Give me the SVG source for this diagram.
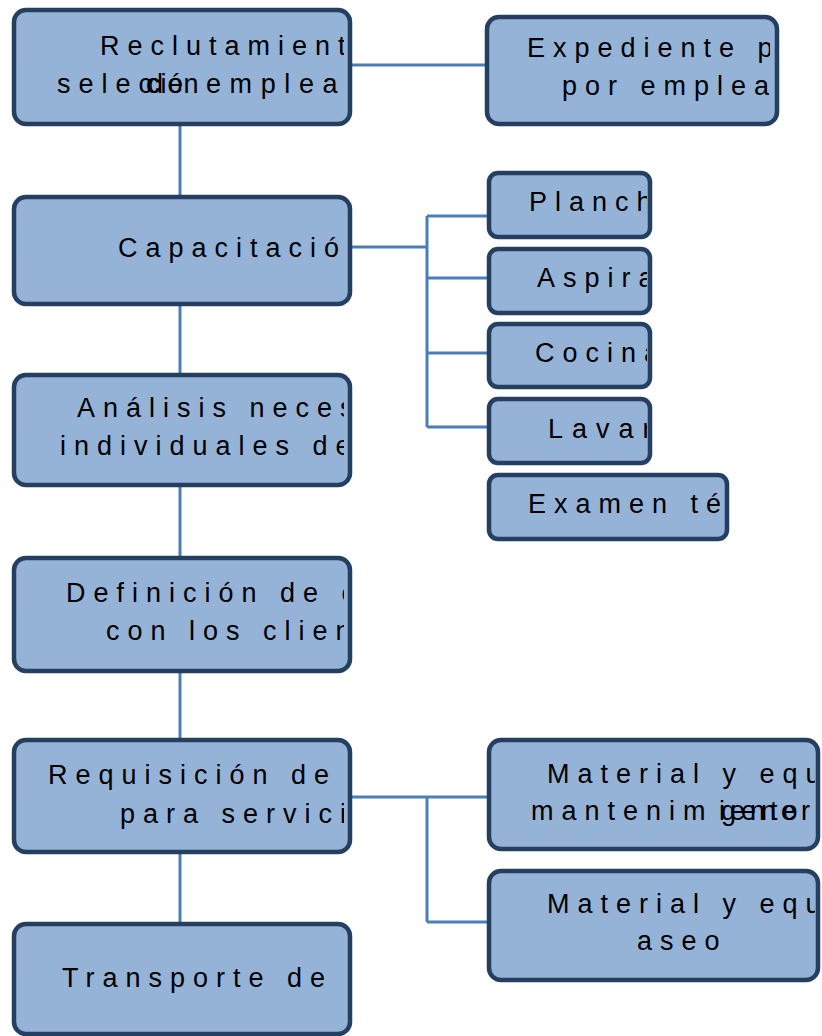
<svg xmlns="http://www.w3.org/2000/svg" width="822" height="1036" viewBox="0 0 822 1036">
<style>
.box{fill:#95b3d7;stroke:#253f61;stroke-width:4.5}
.t{font-family:"Liberation Sans",Arial,sans-serif;font-size:27px;fill:#000;letter-spacing:8px}
.tt{font-family:"Liberation Sans",Arial,sans-serif;font-size:27px;fill:#000}
.c{fill:none;stroke:#4a7ebb;stroke-width:3}
</style>
<defs>
<clipPath id="cL1"><rect x="16" y="12" width="328" height="110"/></clipPath>
<clipPath id="cE"><rect x="489" y="19" width="281" height="103"/></clipPath>
<clipPath id="cL2"><rect x="16" y="199" width="328" height="103"/></clipPath>
<clipPath id="cL3"><rect x="16" y="377" width="328" height="106"/></clipPath>
<clipPath id="cL4"><rect x="16" y="560" width="328" height="109"/></clipPath>
<clipPath id="cL5"><rect x="16" y="742" width="328" height="108"/></clipPath>
<clipPath id="cL6"><rect x="16" y="926" width="328" height="106"/></clipPath>
<clipPath id="cS1"><rect x="491" y="175" width="156" height="60"/></clipPath>
<clipPath id="cS2"><rect x="491" y="251" width="156" height="60"/></clipPath>
<clipPath id="cS3"><rect x="491" y="326" width="156" height="59"/></clipPath>
<clipPath id="cS4"><rect x="491" y="401" width="156" height="60"/></clipPath>
<clipPath id="cS5"><rect x="491" y="477" width="229" height="60"/></clipPath>
<clipPath id="cM1"><rect x="491" y="742" width="324" height="105"/></clipPath>
<clipPath id="cM2"><rect x="491" y="873" width="324" height="105"/></clipPath>
</defs>
<g id="connectors">
<path class="c" d="M180 124V199M180 302V377M180 485V560M180 669V742M180 850V926"/>
<path class="c" d="M350 65H489"/>
<path class="c" d="M350 247H427M427 216V427M427 216H489M427 278H489M427 353H489M427 427H489"/>
<path class="c" d="M350 797H489M427 797V922M427 922H489"/>
</g>
<g id="n1">
<rect class="box" x="14" y="10" width="336" height="114" rx="12"/>
<g clip-path="url(#cL1)">
<text class="t" x="100" y="55">Reclutamiento y</text>
<text class="t" x="57" y="93">selec</text>
<text class="tt" x="146" y="93" style="letter-spacing:1px">ción</text>
<text class="tt" x="148" y="93" style="letter-spacing:5px">de</text>
<text class="t" x="206" y="93" style="letter-spacing:8.6px">empleados</text>
</g>
</g>
<g id="n2">
<rect class="box" x="487" y="17" width="290" height="107" rx="12"/>
<g clip-path="url(#cE)">
<text class="t" x="527" y="57">Expediente personal</text>
<text class="t" x="562" y="95">por empleado</text>
</g>
</g>
<g id="n3">
<rect class="box" x="14" y="197" width="336" height="107" rx="12"/>
<g clip-path="url(#cL2)"><text class="t" x="118" y="257">Capacitación</text></g>
</g>
<g id="n4">
<rect class="box" x="14" y="375" width="336" height="110" rx="12"/>
<g clip-path="url(#cL3)">
<text class="t" x="77" y="417">Análisis necesidades</text>
<text class="t" x="60" y="455">individuales de</text>
</g>
</g>
<g id="n5">
<rect class="box" x="14" y="558" width="336" height="113" rx="12"/>
<g clip-path="url(#cL4)">
<text class="t" x="66" y="602">Definición de contratos</text>
<text class="t" x="106" y="640">con los clientes</text>
</g>
</g>
<g id="n6">
<rect class="box" x="14" y="740" width="336" height="112" rx="12"/>
<g clip-path="url(#cL5)">
<text class="t" x="48" y="784">Requisición de material</text>
<text class="t" x="120" y="823">para servicio</text>
</g>
</g>
<g id="n7">
<rect class="box" x="14" y="924" width="336" height="110" rx="12"/>
<g clip-path="url(#cL6)"><text class="t" x="62" y="987">Transporte de</text></g>
</g>
<g id="s1">
<rect class="box" x="489" y="173" width="161" height="64" rx="9"/>
<g clip-path="url(#cS1)"><text class="t" x="529" y="211">Planchado</text></g>
</g>
<g id="s2">
<rect class="box" x="489" y="249" width="161" height="64" rx="9"/>
<g clip-path="url(#cS2)"><text class="t" x="537" y="287">Aspirado</text></g>
</g>
<g id="s3">
<rect class="box" x="489" y="324" width="161" height="63" rx="9"/>
<g clip-path="url(#cS3)"><text class="t" x="535" y="362">Cocina</text></g>
</g>
<g id="s4">
<rect class="box" x="489" y="399" width="161" height="64" rx="9"/>
<g clip-path="url(#cS4)"><text class="t" x="548" y="438" style="letter-spacing:9px">Lavar</text></g>
</g>
<g id="s5">
<rect class="box" x="489" y="475" width="238" height="64" rx="9"/>
<g clip-path="url(#cS5)"><text class="t" x="528" y="513">Examen técnico</text></g>
</g>
<g id="m1">
<rect class="box" x="489" y="740" width="329" height="109" rx="12"/>
<g clip-path="url(#cM1)">
<text class="t" x="547" y="783">Material y equipo</text>
<text class="t" x="531" y="820">mantenim</text>
<text class="tt" x="719" y="820" style="letter-spacing:5px">iento</text>
<text class="tt" x="721" y="820" style="letter-spacing:5px">general</text>
</g>
</g>
<g id="m2">
<rect class="box" x="489" y="871" width="329" height="109" rx="12"/>
<g clip-path="url(#cM2)">
<text class="t" x="547" y="913">Material y equipo</text>
<text class="t" x="637" y="950">aseo</text>
</g>
</g>
</svg>
